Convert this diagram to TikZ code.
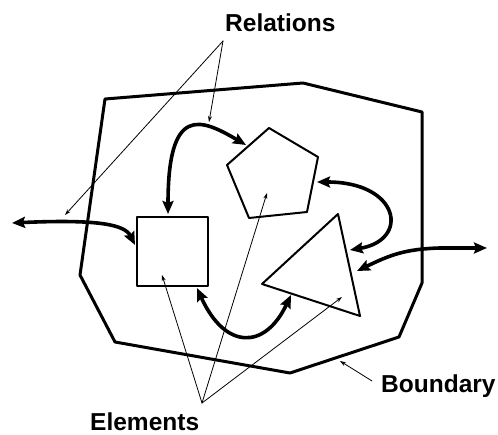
\documentclass[tikz,border=0pt]{standalone}
\usepackage{fontspec}
\setmainfont{Liberation Sans}
\usetikzlibrary{arrows.meta}
\begin{document}
\begin{tikzpicture}[x=1pt, y=-1pt, line join=round, line cap=round,
	bien/.style={line width=3pt},
	hinh/.style={line width=2pt},
	quanhe/.style={line width=3.6pt, {Stealth[length=13pt,width=11pt,inset=2pt]}-{Stealth[length=13pt,width=11pt,inset=2pt]}},
	mui/.style={line width=0.8pt, -{Stealth[length=6pt,width=4pt]}},
	chu/.style={font=\bfseries\fontsize{24.5}{28}\selectfont, inner sep=0pt, anchor=base west}]
	\useasboundingbox (0,0) rectangle (498,435);
	
	% Khai báo điểm (gọn)
	\foreach \name/\x/\y in {
		b1/105/99, b2/303/83, b3/422/112, b4/422/283,
		b5/399/337, b6/290/373, b7/115/342, b8/80/275,
		p1/269/128, p2/318/157, p3/307/212, p4/249/218, p5/227/165,
		t1/338/214, t2/262/284, t3/360/316,
		s1/137/217, s2/208/286
	}{
		\coordinate (\name) at (\x,\y);
	}
	% Điểm đầu mũi tên
	\foreach \name/\x/\y in {
		sq1/168/214, pe1/246/145, ngL/12/223, sq2/135/245,
		pe2/317/182, tr1/350/250, tr2/357/271, ngR/487/248,
		sq3/197/288, tr3/291/295,
		rel/223/41, ra/65/215, rb/209/122,
		ele/202/403, ea/162/275, eb/267/193, ec/342/297,
		bdr/372/381, ba/340/361
	}{
		\coordinate (\name) at (\x,\y);
	}
	
	% Biên
	\draw[bien] (b1)--(b2)--(b3)--(b4)--(b5)--(b6)--(b7)--(b8)--cycle;
	
	% Các phần tử
	\draw[hinh] (s1) rectangle (s2);
	\draw[hinh] (p1)--(p2)--(p3)--(p4)--(p5)--cycle;
	\draw[hinh] (t1)--(t2)--(t3)--cycle;
	
	% Quan hệ
	\draw[quanhe] (sq1) .. controls (168,105) and (200,118) .. (pe1);
	\draw[quanhe] (ngL) .. controls (100,219) and (125,225) .. (sq2);
	\draw[quanhe] (pe2) .. controls (400,182) and (410,240) .. (tr1);
	\draw[quanhe] (tr2) .. controls (390,255) and (405,249) .. (440,248) -- (ngR);
	\draw[quanhe] (sq3) .. controls (225,350) and (265,350) .. (tr3);
	
	% Nhãn
	\node[chu] (lbR) at (225,32) {Relations};
	\node[chu] (lbE) at (90,430) {Elements};
	\node[chu] (lbB) at (381,393) {Boundary};
	
	\draw[mui] (rel)--(ra);
	\draw[mui] (rel)--(rb);
	\draw[mui] (ele)--(ea);
	\draw[mui] (ele)--(eb);
	\draw[mui] (ele)--(ec);
	\draw[mui] (bdr)--(ba);
\end{tikzpicture}
\end{document}
